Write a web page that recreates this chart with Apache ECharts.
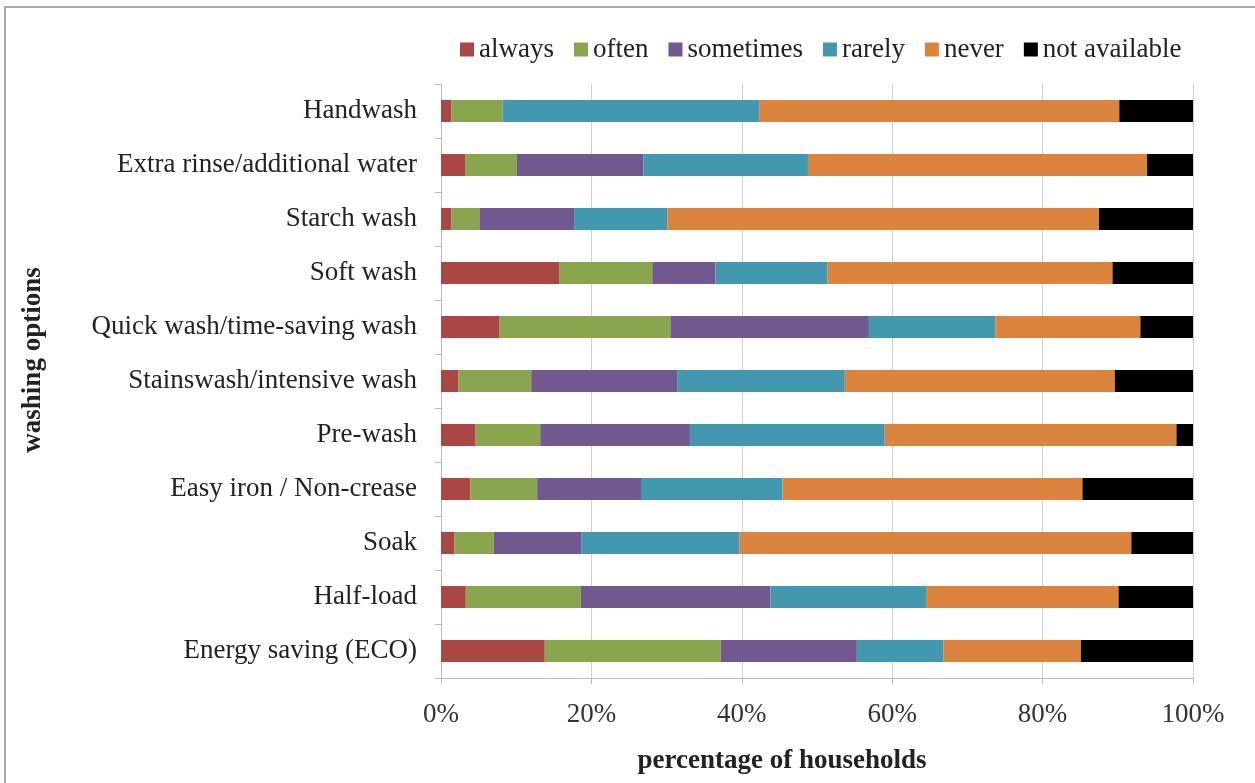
<!DOCTYPE html>
<html>
<head>
<meta charset="utf-8">
<script src="https://cdn.jsdelivr.net/npm/echarts@6/dist/echarts.min.js"></script>
<style>
html,body{margin:0;padding:0;background:#fff;}
#chart{width:1255px;height:783px;}
</style>
</head>
<body>
<div id="chart"></div>
<script>
// categories, bottom to top as drawn
var options = ['Energy saving (ECO)','Half-load','Soak','Easy iron / Non-crease','Pre-wash',
    'Stainswash/intensive wash','Quick wash/time-saving wash','Soft wash','Starch wash',
    'Extra rinse/additional water','Handwash'];

var always       = [13.8, 3.3, 1.8, 3.9, 4.6, 2.3, 7.8, 15.7, 1.4, 3.2, 1.4];
var often        = [23.4, 15.3, 5.2, 8.9, 8.6, 9.7, 22.7, 12.4, 3.7, 6.9, 6.8];
var sometimes    = [18.1, 25.2, 11.7, 13.8, 19.9, 19.4, 26.4, 8.4, 12.6, 16.8, 0];
var rarely       = [11.5, 20.7, 21.0, 18.8, 25.9, 22.3, 16.8, 14.9, 12.4, 21.9, 34.1];
var never        = [18.3, 25.6, 52.1, 39.9, 38.8, 35.9, 19.3, 37.9, 57.4, 45.1, 47.9];
var notAvailable = [14.9, 9.9, 8.2, 14.7, 2.2, 10.4, 7.0, 10.7, 12.5, 6.1, 9.8];

var seriesNames = ['always','often','sometimes','rarely','never','not available'];
var seriesData = [always, often, sometimes, rarely, never, notAvailable];
var colors = ['#AA4643','#89A54E','#71588F','#4198AF','#DB843D','#000000'];

var font = 'Liberation Serif';

var myChart = echarts.init(document.getElementById('chart'));

var series = [];
for (var i = 0; i < seriesNames.length; i++) {
    series.push({
        name: seriesNames[i],
        type: 'bar',
        stack: 'total',
        barWidth: 22,
        data: seriesData[i],
        itemStyle: {color: colors[i]}
    });
}

option = {
    animation: false,
    backgroundColor: '#fff',
    color: colors,
    graphic: [{
        type: 'rect',
        shape: {x: 5, y: 7, width: 1270, height: 800},
        style: {fill: 'none', stroke: '#aaa', lineWidth: 2}
    }],
    legend: {
        top: 31,
        left: 455,
        itemWidth: 14,
        itemHeight: 14,
        itemGap: 20,
        icon: 'rect',
        textStyle: {fontFamily: font, fontSize: 27, color: '#222'},
        data: seriesNames
    },
    grid: {left: 441, right: 62, top: 84, bottom: 105},
    xAxis: {
        type: 'value',
        min: 0,
        max: 100,
        interval: 20,
        name: 'percentage of households',
        nameLocation: 'middle',
        nameGap: 70,
        nameTextStyle: {fontFamily: font, fontSize: 27, fontWeight: 'bold', color: '#222', padding: [0, 70, 0, 0]},
        axisLine: {show: true, lineStyle: {color: '#bbb'}},
        axisTick: {show: true, length: 6, lineStyle: {color: '#bbb'}},
        axisLabel: {formatter: '{value}%', margin: 23, fontFamily: font, fontSize: 27, color: '#333'},
        splitLine: {show: true, lineStyle: {color: '#d0d0d0', width: 1}}
    },
    yAxis: {
        type: 'category',
        data: options,
        name: 'washing options',
        nameLocation: 'middle',
        nameGap: 394,
        nameRotate: 90,
        nameTextStyle: {fontFamily: font, fontSize: 27, fontWeight: 'bold', color: '#222', padding: [0, 0, 0, 42]},
        axisLine: {show: true, lineStyle: {color: '#bbb'}},
        axisTick: {show: true, length: 6, lineStyle: {color: '#bbb'}},
        axisLabel: {margin: 24, fontFamily: font, fontSize: 27, color: '#222'}
    },
    series: series
};
myChart.setOption(option, true);
</script>
</body>
</html>
